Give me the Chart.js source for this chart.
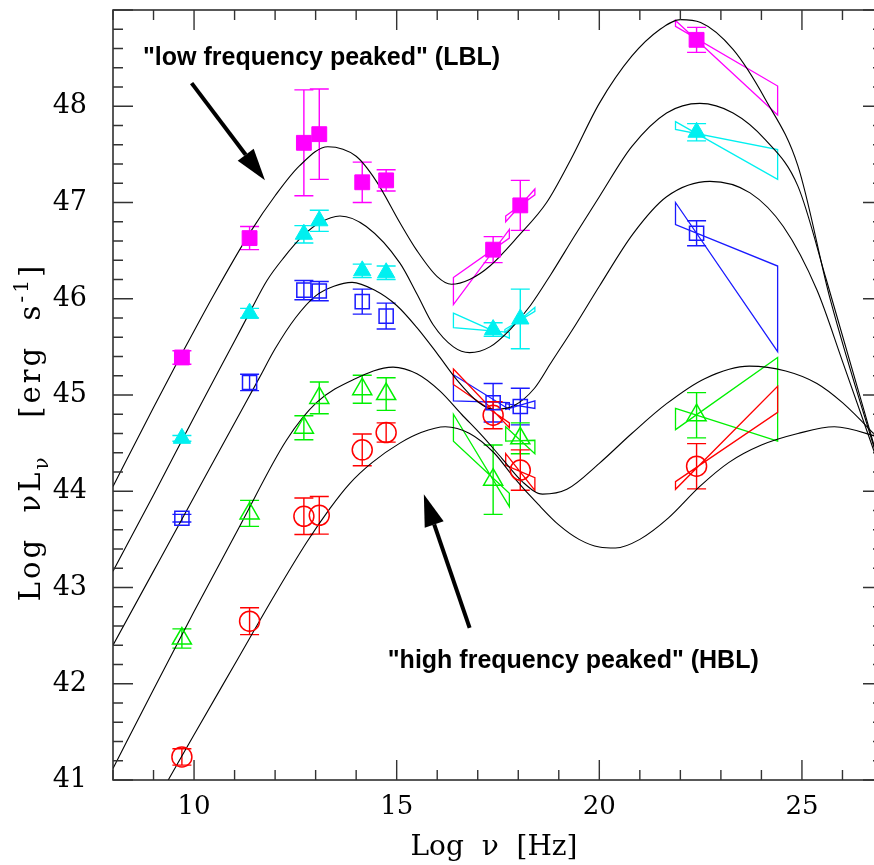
<!DOCTYPE html>
<html>
<head>
<meta charset="utf-8">
<script src="https://cdn.jsdelivr.net/npm/chart.js@4.4.0/dist/chart.umd.min.js"></script>
<style>
  html, body { margin: 0; padding: 0; overflow: hidden; background: #fff; }
  canvas { display: block; }
</style>
</head>
<body>
<canvas id="sed" width="884" height="865"></canvas>
<script>
// Observing bands, log10(nu / Hz): 5 GHz, 230 GHz, 60um, 25um, K, V, 1 keV, 5 keV, 100 MeV
const bandNu = [9.70, 11.37, 12.71, 13.09, 14.15, 14.74, 17.38, 18.05, 22.40];

// Average SEDs per radio-luminosity bin, log10(nu L_nu / erg s^-1), with 1-sigma errors
const bin1L   = [45.39, 46.63, 47.62, 47.71, 47.21, 47.23, 46.51, 46.97, 48.69];
const bin1Err = [0.07, 0.12, 0.55, 0.47, 0.21, 0.11, 0.135, 0.26, 0.13];
const bin2L   = [44.55, 45.85, 46.67, 46.81, 46.29, 46.27, 45.68, 45.79, 47.73];
const bin2Err = [0.03, 0.05, 0.09, 0.11, 0.07, 0.07, 0.07, 0.31, 0.09];
const bin3L   = [43.72, 45.13, 46.09, 46.08, 45.97, 45.82, 44.92, 44.88, 46.68];
const bin3Err = [0.04, 0.085, 0.10, 0.10, 0.13, 0.135, 0.20, 0.19, 0.13];
const bin4L   = [42.47, 43.77, 44.66, 44.97, 45.06, 45.01, 44.12, 44.55, 44.79];
const bin4Err = [0.10, 0.135, 0.125, 0.165, 0.145, 0.17, 0.36, 0.16, 0.235];
const bin5L   = [41.24, 42.65, 43.74, 43.75, 44.43, 44.61, 44.79, 44.22, 44.26];
const bin5Err = [0.085, 0.14, 0.19, 0.195, 0.165, 0.10, 0.14, 0.21, 0.235];

// Spectral-index bow ties: [nuLeft, nuRight, leftTop, leftBottom, rightTop, rightBottom]
const bin1Soft  = [16.40, 17.78, 46.22, 45.94, 46.72, 46.63];
const bin1Hard  = [17.69, 18.41, 46.86, 46.80, 47.14, 47.08];
const bin1Gamma = [21.88, 24.40, 48.89, 48.83, 48.21, 47.91];
const bin2Soft  = [16.40, 17.78, 45.85, 45.70, 45.65, 45.59];
const bin2Hard  = [17.67, 18.41, 45.68, 45.65, 45.91, 45.87];
const bin2Gamma = [21.88, 24.40, 47.84, 47.76, 47.55, 47.24];
const bin3Soft  = [16.40, 17.78, 45.21, 44.94, 44.92, 44.85];
const bin3Hard  = [17.69, 18.41, 44.91, 44.85, 44.94, 44.86];
const bin3Gamma = [21.88, 24.40, 47.00, 46.77, 46.34, 45.45];
const bin4Soft  = [16.40, 17.78, 44.80, 44.52, 43.98, 43.84];
const bin4Hard  = [17.69, 18.41, 44.67, 44.52, 44.53, 44.39];
const bin4Gamma = [21.88, 24.40, 44.86, 44.64, 45.39, 44.52];
const bin5Soft  = [16.40, 17.78, 45.27, 45.11, 44.71, 44.66];
const bin5Hard  = [17.69, 18.41, 44.39, 44.27, 44.14, 44.01];
const bin5Gamma = [21.88, 24.40, 44.10, 44.02, 45.09, 44.82];

// Analytic model SEDs (synchrotron + inverse Compton humps), sampled
const model1Nu = [8.0, 9.0, 9.7, 10.5, 11.4, 12.0, 12.6, 13.3, 14.0, 14.5, 15.08, 15.5, 16.0, 16.35, 16.8, 17.3, 18.0, 18.7, 19.3, 20.0, 20.8, 21.5, 22.0, 22.5, 23.3, 24.1, 24.9, 25.7, 27.0];
const model1L  = [44.05, 44.87, 45.43, 46.05, 46.70, 47.07, 47.38, 47.58, 47.48, 47.22, 46.79, 46.50, 46.23, 46.15, 46.20, 46.34, 46.65, 47.00, 47.45, 48.03, 48.52, 48.80, 48.90, 48.87, 48.59, 48.07, 47.38, 45.99, 44.15];
const model2Nu = [8.0, 9.0, 10.0, 11.0, 11.4, 11.8, 12.2, 12.7, 13.1, 13.6, 14.25, 15.08, 15.5, 15.9, 16.4, 16.8, 17.3, 17.8, 18.3, 18.8, 19.4, 20.0, 20.8, 21.66, 22.48, 23.3, 24.1, 24.9, 25.6, 27.0];
const model2L  = [43.17, 43.96, 44.77, 45.56, 45.88, 46.19, 46.42, 46.66, 46.79, 46.86, 46.75, 46.37, 46.05, 45.73, 45.50, 45.44, 45.50, 45.68, 45.93, 46.25, 46.66, 47.06, 47.58, 47.93, 48.03, 47.93, 47.65, 47.17, 46.20, 44.15];
const model3Nu = [8.0, 9.0, 10.0, 11.0, 11.6, 12.0, 12.5, 13.0, 13.45, 13.9, 14.45, 15.0, 15.5, 16.0, 16.5, 17.0, 17.4, 17.9, 18.4, 18.8, 19.4, 20.0, 20.84, 21.66, 22.73, 23.72, 24.54, 25.37, 26.0, 27.0];
const model3L  = [42.40, 43.17, 43.94, 44.71, 45.17, 45.48, 45.80, 46.03, 46.13, 46.17, 46.09, 45.93, 45.70, 45.43, 45.15, 44.93, 44.85, 44.89, 45.07, 45.33, 45.72, 46.13, 46.68, 47.06, 47.22, 47.10, 46.75, 46.09, 45.35, 44.15];
const model4Nu = [8.0, 9.0, 10.0, 11.13, 12.28, 13.02, 13.93, 14.91, 15.5, 16.07, 16.6, 17.1, 17.6, 18.1, 18.6, 19.2, 20.0, 20.8, 21.66, 22.6, 23.7, 24.6, 25.37, 26.0, 27.0];
const model4L  = [41.12, 41.94, 42.75, 43.64, 44.53, 44.92, 45.16, 45.29, 45.22, 45.04, 44.80, 44.58, 44.34, 44.10, 43.97, 44.02, 44.29, 44.60, 44.91, 45.17, 45.30, 45.25, 45.12, 44.92, 44.50];
const model5Nu = [9.2, 9.7, 10.0, 11.0, 12.0, 12.78, 13.35, 13.84, 14.4, 15.08, 15.6, 16.2, 16.8, 17.4, 17.9, 18.5, 19.0, 19.5, 20.0, 20.4, 21.0, 21.7, 22.48, 23.2, 24.0, 24.9, 25.8, 27.0];
const model5L  = [40.88, 41.25, 41.47, 42.20, 42.93, 43.47, 43.82, 44.08, 44.30, 44.50, 44.61, 44.67, 44.60, 44.40, 44.14, 43.86, 43.65, 43.50, 43.42, 43.41, 43.50, 43.72, 44.05, 44.30, 44.48, 44.60, 44.67, 44.55];

// Axis tick labels
const xTickValues = [10, 15, 20, 25];
const yTickValues = [41, 42, 43, 44, 45, 46, 47, 48];

const bins = [
  { lum: bin1L, err: bin1Err, ties: [bin1Soft, bin1Hard, bin1Gamma], color: '#ff00ff', style: 'rect',     r: 10.5, fill: true },
  { lum: bin2L, err: bin2Err, ties: [bin2Soft, bin2Hard, bin2Gamma], color: '#00f0f0', style: 'triangle', r: 10,   fill: true },
  { lum: bin3L, err: bin3Err, ties: [bin3Soft, bin3Hard, bin3Gamma], color: '#1a1aff', style: 'rect',     r: 10,   fill: false },
  { lum: bin4L, err: bin4Err, ties: [bin4Soft, bin4Hard, bin4Gamma], color: '#00f000', style: 'triangle', r: 11,   fill: false },
  { lum: bin5L, err: bin5Err, ties: [bin5Soft, bin5Hard, bin5Gamma], color: '#ff0000', style: 'circle',   r: 10,   fill: false }
];
const models = [[model1Nu, model1L], [model2Nu, model2L], [model3Nu, model3L], [model4Nu, model4L], [model5Nu, model5L]];

const pointSets = bins.map(b => ({
  type: 'scatter',
  data: bandNu.map((nu, i) => ({ x: nu, y: b.lum[i] })),
  pointStyle: b.style,
  pointRadius: b.r,
  pointHoverRadius: b.r,
  borderColor: b.color,
  backgroundColor: b.fill ? b.color : 'rgba(0,0,0,0)',
  borderWidth: b.fill ? 1 : 1.5
}));
const curveSets = models.map(([nu, lum]) => ({
  type: 'line',
  data: nu.map((v, i) => ({ x: v, y: lum[i] })),
  borderColor: '#000',
  borderWidth: 1.1,
  pointRadius: 0,
  fill: false,
  cubicInterpolationMode: 'monotone'
}));

// Error bars and bow ties, drawn beneath the symbols
const errorBars = {
  id: 'errorBars',
  beforeDatasetsDraw(chart) {
    const { ctx, chartArea: a, scales: { x, y } } = chart;
    const cap = 9.5;
    ctx.save();
    ctx.beginPath();
    ctx.rect(a.left, a.top, a.right - a.left, a.bottom - a.top);
    ctx.clip();
    bins.forEach(b => {
      ctx.strokeStyle = b.color;
      ctx.lineWidth = 1.4;
      b.lum.forEach((v, i) => {
        const px = x.getPixelForValue(bandNu[i]);
        const y1 = y.getPixelForValue(v - b.err[i]);
        const y2 = y.getPixelForValue(v + b.err[i]);
        ctx.beginPath();
        ctx.moveTo(px, y1); ctx.lineTo(px, y2);
        ctx.moveTo(px - cap, y1); ctx.lineTo(px + cap, y1);
        ctx.moveTo(px - cap, y2); ctx.lineTo(px + cap, y2);
        ctx.stroke();
      });
      ctx.lineWidth = 1.3;
      b.ties.forEach(([n1, n2, lt, lb, rt, rb]) => {
        const x1 = x.getPixelForValue(n1), x2 = x.getPixelForValue(n2);
        ctx.beginPath();
        ctx.moveTo(x1, y.getPixelForValue(lt));
        ctx.lineTo(x2, y.getPixelForValue(rb));
        ctx.lineTo(x2, y.getPixelForValue(rt));
        ctx.lineTo(x1, y.getPixelForValue(lb));
        ctx.closePath();
        ctx.stroke();
      });
    });
    ctx.restore();
  }
};

// Annotation labels and arrows, placed in data coordinates
const notes = [
  { text: '"low frequency peaked" (LBL)',  nu: 8.74,  lum: 48.43 },
  { text: '"high frequency peaked" (HBL)', nu: 14.78, lum: 42.16 }
];
const arrows = [
  { from: [9.94, 48.24],  to: [11.75, 47.23] },
  { from: [16.80, 42.58], to: [15.67, 43.97] }
];

function drawRuns(ctx, runs, size) {
  // runs: [text, kind] where kind is 'n', 'sub' or 'sup'
  const fontFor = k => (k === 'n' ? size : Math.round(size * 0.68)) + 'px "DejaVu Serif"';
  const widths = runs.map(([t, k]) => { ctx.font = fontFor(k); return ctx.measureText(t).width; });
  const total = widths.reduce((s, w) => s + w, 0);
  let cx = -total / 2;
  runs.forEach(([t, k], i) => {
    ctx.font = fontFor(k);
    const dy = k === 'sub' ? size * 0.28 : k === 'sup' ? -size * 0.42 : 0;
    ctx.fillText(t, cx, dy);
    cx += widths[i];
  });
}

const frame = {
  id: 'frame',
  afterDraw(chart) {
    const { ctx, chartArea: a, scales: { x, y } } = chart;
    ctx.save();
    // axis box
    ctx.strokeStyle = '#222';
    ctx.lineWidth = 1.5;
    ctx.strokeRect(a.left, a.top, a.right - a.left, a.bottom - a.top);
    // inward ticks on all four sides
    ctx.strokeStyle = '#333';
    ctx.lineWidth = 1.4;
    ctx.beginPath();
    for (let v = 8; v <= 27; v++) {
      const px = x.getPixelForValue(v);
      const len = v % 5 === 0 ? 20 : 10;
      ctx.moveTo(px, a.bottom); ctx.lineTo(px, a.bottom - len);
      ctx.moveTo(px, a.top); ctx.lineTo(px, a.top + len);
    }
    for (let i = 0; i <= 40; i++) {
      const py = y.getPixelForValue(41 + i * 0.2);
      const len = i % 5 === 0 ? 20 : 10;
      ctx.moveTo(a.left, py); ctx.lineTo(a.left + len, py);
      ctx.moveTo(a.right, py); ctx.lineTo(a.right - len, py);
    }
    ctx.stroke();

    // axis titles
    ctx.fillStyle = '#000';
    ctx.textBaseline = 'alphabetic';
    ctx.textAlign = 'left';
    ctx.save();
    ctx.translate((a.left + a.right) / 2 - 4, 855);
    drawRuns(ctx, [['Log  \u03BD  [Hz]', 'n']], 28);
    ctx.restore();
    ctx.save();
    ctx.translate(40, 432);
    ctx.rotate(-Math.PI / 2);
    ctx.letterSpacing = '3px';
    drawRuns(ctx, [['Log  \u03BDL', 'n'], ['\u03BD', 'sub'], ['   [erg  s', 'n'], ['-1', 'sup'], [']', 'n']], 29);
    ctx.restore();

    // annotations
    ctx.font = 'bold 25px "Liberation Sans", Arial, sans-serif';
    notes.forEach(n => ctx.fillText(n.text, x.getPixelForValue(n.nu), y.getPixelForValue(n.lum)));
    arrows.forEach(({ from, to }) => {
      const x0 = x.getPixelForValue(from[0]), y0 = y.getPixelForValue(from[1]);
      const x1 = x.getPixelForValue(to[0]), y1 = y.getPixelForValue(to[1]);
      const ang = Math.atan2(y1 - y0, x1 - x0);
      const head = 32, half = 10;
      const bx = x1 - head * Math.cos(ang), by = y1 - head * Math.sin(ang);
      ctx.strokeStyle = '#000';
      ctx.lineWidth = 4;
      ctx.beginPath(); ctx.moveTo(x0, y0); ctx.lineTo(bx, by); ctx.stroke();
      ctx.beginPath();
      ctx.moveTo(x1, y1);
      ctx.lineTo(bx + half * Math.sin(ang), by - half * Math.cos(ang));
      ctx.lineTo(bx - half * Math.sin(ang), by + half * Math.cos(ang));
      ctx.closePath();
      ctx.fillStyle = '#000';
      ctx.fill();
    });
    ctx.restore();
  }
};

new Chart(document.getElementById('sed'), {
  data: { datasets: [...pointSets, ...curveSets] },
  options: {
    responsive: false,
    animation: false,
    layout: { autoPadding: false, padding: { top: 10, right: 1, left: 0, bottom: 0 } },
    plugins: { legend: { display: false }, tooltip: { enabled: false } },
    scales: {
      x: {
        type: 'linear', min: 8, max: 27,
        grid: { display: false }, border: { display: false },
        afterBuildTicks: s => { s.ticks = xTickValues.map(v => ({ value: v })); },
        afterFit: s => { s.height = 85; s.paddingLeft = 0; s.paddingRight = 0; },
        ticks: { padding: 4, color: '#000', font: { family: 'DejaVu Serif', size: 26 }, maxRotation: 0, autoSkip: false }
      },
      y: {
        type: 'linear', min: 41, max: 49,
        grid: { display: false }, border: { display: false },
        afterBuildTicks: s => { s.ticks = yTickValues.map(v => ({ value: v })); },
        afterFit: s => { s.width = 113; s.paddingTop = 0; s.paddingBottom = 0; },
        ticks: { padding: 18, color: '#000', font: { family: 'DejaVu Serif', size: 27 }, autoSkip: false }
      }
    }
  },
  plugins: [errorBars, frame]
});
</script>
</body>
</html>
